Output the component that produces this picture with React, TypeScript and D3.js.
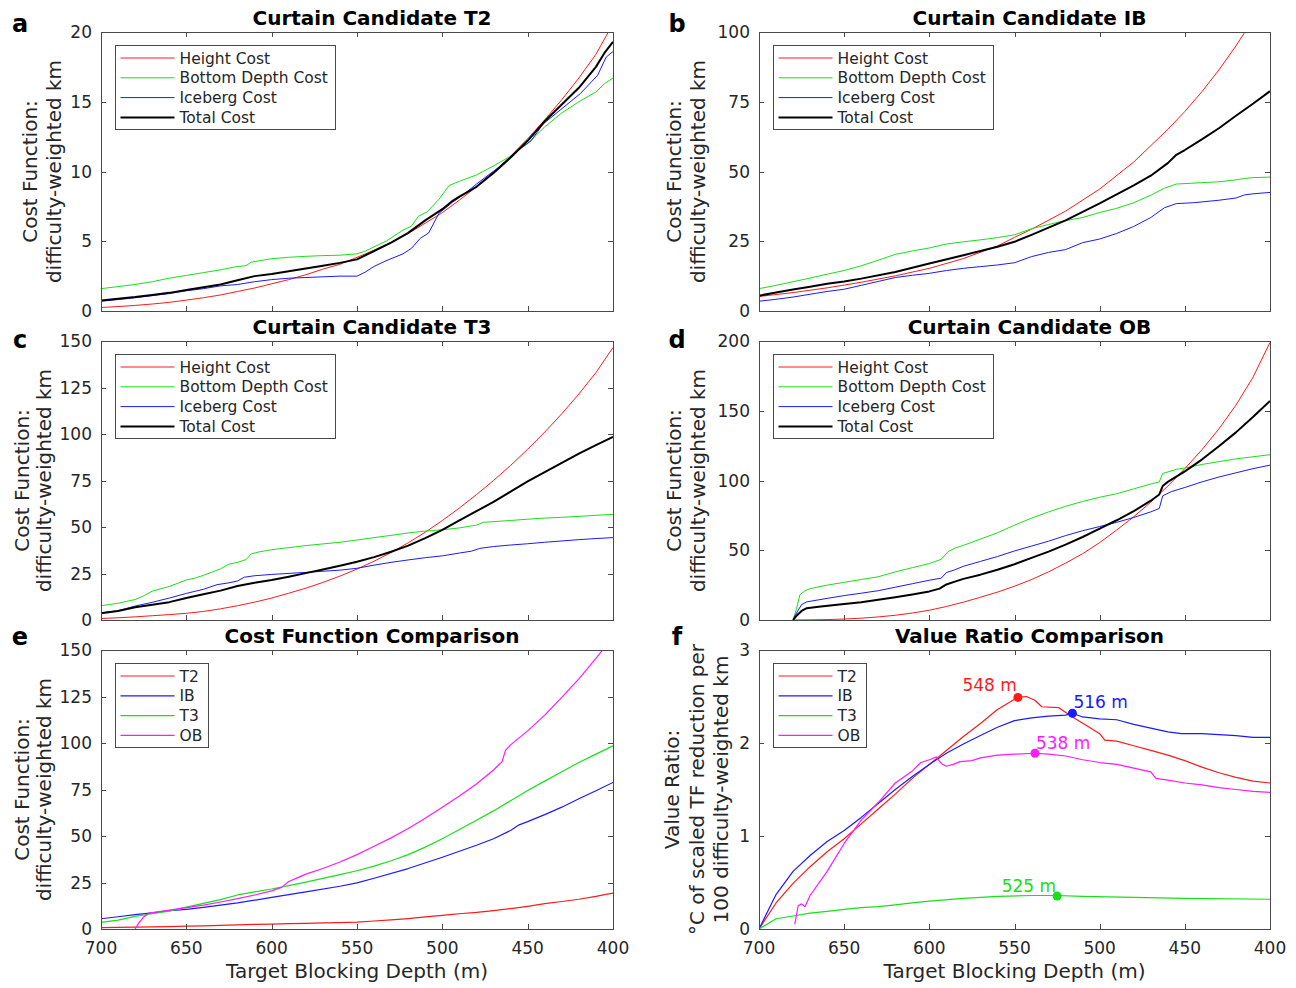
import React from 'react';
import * as d3 from 'd3';

type Pt = [number, number];

// x axis: target blocking depth (m), reversed
const depthTicks = [700, 650, 600, 550, 500, 450, 400];

// a: Curtain Candidate T2
const t2Height: Pt[] = [[700,0.25],[690,0.32],[680,0.4],[670,0.5],[660,0.62],[650,0.78],[640,0.95],[630,1.15],[620,1.4],[610,1.65],[600,1.95],[590,2.25],[580,2.6],[570,3.0],[560,3.35],[550,3.85],[540,4.35],[530,4.9],[520,5.55],[510,6.3],[500,7.05],[490,7.95],[480,8.9],[470,9.95],[460,11.1],[450,12.35],[440,13.7],[430,15.15],[420,16.7],[410,18.4],[400,20.6]];
const t2Bottom: Pt[] = [[700,1.6],[690,1.75],[680,1.9],[670,2.1],[660,2.35],[650,2.55],[640,2.75],[630,2.95],[622,3.15],[615,3.25],[612,3.5],[600,3.75],[590,3.85],[580,3.92],[570,3.97],[560,4.0],[550,4.1],[545,4.3],[540,4.6],[533,5.0],[523,5.8],[518,6.1],[514,6.8],[509,7.1],[502,8.0],[496,9.0],[490,9.3],[480,9.75],[470,10.4],[460,11.1],[450,12.0],[440,13.2],[430,14.2],[420,15.0],[410,15.7],[405,16.3],[400,16.7]];
const t2Iceberg: Pt[] = [[700,0.7],[690,0.82],[680,0.95],[670,1.1],[660,1.25],[650,1.45],[640,1.6],[630,1.8],[620,1.9],[610,2.1],[600,2.25],[590,2.35],[580,2.4],[570,2.45],[560,2.5],[550,2.5],[545,2.8],[540,3.2],[533,3.6],[523,4.1],[518,4.5],[513,5.2],[508,5.6],[502,7.0],[494,7.8],[487,8.4],[480,9.1],[467,10.3],[455,11.6],[448,12.2],[441,13.4],[431,14.4],[419,15.6],[409,16.9],[404,18.2],[400,18.6]];
const t2Total: Pt[] = [[700,0.75],[690,0.88],[680,1.0],[670,1.15],[660,1.3],[650,1.5],[640,1.7],[630,1.9],[620,2.2],[610,2.5],[600,2.65],[590,2.85],[580,3.05],[570,3.25],[560,3.45],[550,3.7],[540,4.3],[530,4.9],[520,5.6],[510,6.5],[500,7.3],[494,7.9],[490,8.2],[480,8.9],[470,9.9],[460,11.0],[450,12.2],[440,13.6],[430,14.8],[420,16.0],[410,17.5],[405,18.5],[400,19.3]];

// b: Curtain Candidate IB
const ibHeight: Pt[] = [[700,5.2],[680,6.6],[660,8.3],[650,9.3],[640,10.3],[620,12.6],[600,15.3],[580,18.8],[560,23.3],[550,26.4],[540,29.3],[520,35.8],[500,43.7],[480,53.4],[460,65.1],[450,71.5],[440,78.6],[430,86.4],[420,95],[410,104.5],[400,115]];
const ibBottom: Pt[] = [[700,8],[690,9.2],[680,10.5],[670,11.8],[660,13.2],[650,14.5],[640,16.2],[630,18.2],[620,20.3],[610,21.5],[600,22.6],[590,24],[580,24.8],[570,25.5],[560,26.3],[550,27.3],[540,29.5],[530,31],[520,32.4],[510,33.5],[500,35.3],[490,36.8],[480,38.8],[470,41.5],[462,44],[455,45.5],[440,46],[430,46.3],[420,47],[415,47.5],[410,47.8],[400,48]];
const ibIceberg: Pt[] = [[700,3.5],[690,4.2],[680,5.0],[670,6.0],[660,7.0],[650,7.8],[640,9.2],[630,10.6],[620,12.0],[610,12.8],[600,13.5],[590,14.5],[580,15.3],[570,15.9],[560,16.5],[550,17.3],[540,19.5],[530,21],[520,22],[510,24.5],[500,25.8],[490,27.8],[480,30.3],[470,33.5],[462,37],[455,38.5],[445,38.8],[430,39.7],[420,40.5],[415,41.6],[410,42],[400,42.5]];
const ibTotal: Pt[] = [[700,5.5],[690,6.6],[680,7.7],[670,8.7],[660,9.8],[650,10.6],[640,11.6],[620,14],[600,17],[580,20],[560,23],[550,24.8],[540,27.3],[520,32.5],[500,38.6],[480,45],[470,48.5],[460,53],[455,56],[450,57.7],[440,61.5],[430,65.5],[420,70],[410,74.3],[400,78.8]];

// c: Curtain Candidate T3
const t3Height: Pt[] = [[700,0.8],[690,1.2],[680,1.7],[670,2.3],[660,2.9],[650,3.6],[640,4.6],[630,6],[620,7.7],[610,9.6],[600,11.8],[590,14.4],[580,17.1],[570,20.2],[560,23.6],[550,27.4],[540,31.6],[530,36.3],[520,41.5],[510,47.2],[500,53.5],[490,60.2],[480,67.4],[470,75],[460,83.1],[450,91.8],[440,101],[430,110.9],[420,121.5],[410,133],[400,146.5]];
const t3Bottom: Pt[] = [[700,7.7],[690,9],[680,11],[675,13],[670,15.5],[660,18],[650,21.5],[645,22.5],[640,24],[630,27.5],[625,30],[620,31],[615,32.5],[612,35.5],[608,36.5],[600,37.8],[580,40],[560,41.8],[550,43],[540,44.3],[530,45.5],[520,46.8],[510,47.8],[500,48.5],[490,49.5],[480,51],[476,52.5],[460,53.5],[450,54.2],[440,54.8],[430,55.2],[420,55.7],[410,56.3],[400,56.8]];
const t3Iceberg: Pt[] = [[700,3.9],[690,5],[680,7.5],[670,9.5],[660,11.8],[650,14.3],[640,16.5],[632,19],[625,20],[620,21],[616,23],[610,23.8],[600,24.5],[580,25.6],[560,26.8],[550,27.8],[540,29.5],[530,31],[520,32.3],[510,33.5],[500,34.5],[490,36],[483,37],[478,38.5],[470,39.5],[460,40.3],[450,41],[440,41.8],[430,42.5],[420,43.2],[410,43.8],[400,44.3]];
const t3Total: Pt[] = [[700,3.6],[690,4.8],[680,6.8],[670,8.2],[660,9.6],[650,11.8],[640,13.8],[630,15.8],[620,18.3],[610,20],[600,21.5],[590,23.3],[580,25.2],[570,27.2],[560,29.2],[550,31.3],[540,33.8],[530,36.7],[520,40],[510,44],[500,48.5],[490,53.5],[483,57],[480,58.5],[470,63.5],[460,69],[450,74.5],[440,79.5],[430,84.5],[420,89.5],[410,94],[400,98.5]];

// d: Curtain Candidate OB
const obHeight: Pt[] = [[680,0],[670,0.1],[660,0.3],[650,0.7],[640,1.3],[630,2.2],[620,3.4],[610,5],[600,7],[590,9.7],[580,12.8],[570,16.3],[560,20],[550,24.2],[540,29],[530,34.5],[520,40.8],[510,47.5],[500,55.5],[495,60],[490,64.5],[480,74],[470,84.5],[460,96],[450,108.5],[440,122],[430,137],[420,154],[410,174],[400,199]];
const obBottom: Pt[] = [[680,0],[678,8],[676,18],[673,21],[670,22.5],[660,25],[650,27],[640,29],[630,31],[620,34.5],[610,37.5],[600,40.5],[593,43.5],[589,49],[585,51.5],[580,53.5],[570,58],[560,62.5],[550,68],[540,73],[530,77.5],[520,81.5],[510,85],[500,88],[490,90.5],[480,94],[470,97.5],[465,99],[463,105],[455,108],[450,109],[440,111.5],[430,113.5],[420,115.5],[410,117],[400,118.5]];
const obIceberg: Pt[] = [[680,0],[678,5],[675,11],[672,13],[660,15.5],[650,17.5],[640,19.2],[630,21],[620,23.5],[610,26],[600,28.5],[593,30],[590,34],[585,36],[580,38.5],[570,42],[560,45.5],[550,49.5],[540,53],[530,56.5],[520,60.5],[510,64],[500,67],[490,70],[480,73.5],[470,77.5],[465,80],[463,89],[458,92],[450,95],[440,99],[430,102.5],[420,105.5],[410,108.5],[400,111]];
const obTotal: Pt[] = [[680,0],[678,3],[675,6.5],[672,8.5],[665,9.5],[650,11.5],[640,12.8],[630,14.5],[620,16.3],[610,18.3],[600,20.5],[594,22.5],[590,25.5],[585,27.5],[580,29.5],[570,32.5],[560,36],[550,40],[540,44.5],[530,49],[520,54],[510,59.5],[500,65.5],[490,71.5],[480,78],[470,85.5],[465,90],[463,96],[460,99],[450,106.5],[440,115],[430,124.5],[420,134.5],[410,145.5],[400,157]];

// f: value ratio
const vrT2: Pt[] = [[700,0],[690,0.28],[680,0.49],[670,0.67],[660,0.83],[650,0.97],[640,1.13],[630,1.29],[620,1.45],[610,1.62],[600,1.77],[590,1.92],[580,2.07],[570,2.21],[560,2.36],[550,2.47],[548,2.49],[543,2.5],[538,2.46],[534,2.39],[524,2.38],[516,2.28],[507,2.18],[500,2.1],[497,2.03],[490,2.02],[480,1.97],[470,1.92],[460,1.87],[450,1.81],[440,1.74],[430,1.68],[420,1.63],[410,1.59],[400,1.57]];
const vrIB: Pt[] = [[700,0],[690,0.37],[680,0.62],[670,0.79],[660,0.94],[650,1.06],[640,1.2],[630,1.35],[620,1.5],[610,1.64],[600,1.77],[590,1.89],[580,1.99],[570,2.08],[560,2.17],[550,2.24],[540,2.27],[530,2.29],[520,2.3],[516,2.32],[510,2.28],[500,2.26],[490,2.25],[480,2.2],[470,2.16],[460,2.12],[452,2.1],[440,2.1],[430,2.09],[420,2.08],[410,2.06],[400,2.06]];
const vrT3: Pt[] = [[700,0],[690,0.11],[680,0.14],[670,0.17],[660,0.19],[650,0.21],[640,0.23],[630,0.24],[620,0.26],[610,0.28],[600,0.3],[580,0.33],[560,0.35],[540,0.36],[525,0.36],[510,0.35],[480,0.34],[450,0.33],[400,0.32]];
const vrOB: Pt[] = [[679,0.05],[677,0.25],[675,0.27],[673,0.24],[670,0.36],[660,0.62],[650,0.92],[640,1.17],[630,1.36],[620,1.57],[610,1.7],[605,1.79],[600,1.82],[596,1.85],[593,1.78],[590,1.75],[586,1.77],[582,1.8],[575,1.81],[570,1.84],[560,1.87],[550,1.88],[538,1.89],[530,1.88],[520,1.86],[510,1.82],[500,1.79],[490,1.77],[480,1.73],[470,1.69],[467,1.62],[460,1.6],[450,1.57],[440,1.55],[430,1.52],[420,1.5],[410,1.48],[400,1.47]];

// best depths in f
const peakNames = ['T2', 'IB', 'T3', 'OB'];
const peakDepths = [548, 516, 525, 538];
const peakValues = [2.49, 2.32, 0.355, 1.89];

const RED = '#ff1a1a';
const GREEN = '#16e016';
const BLUE = '#1a1aff';
const MAG = '#ff1aff';
const FONT = '"DejaVu Sans", Verdana, sans-serif';

const colL = [101, 759];
const colR = [613, 1270];
const rowT = [32, 341, 650];
const rowB = [311, 620, 929];

type Series = { name: string; data: Pt[]; color: string; w: number };
type PanelCfg = {
  letter: string; title: string; col: number; row: number;
  yMax: number; yStep: number; series: Series[]; legendW: number;
  ylab: string[]; ylabX: number[]; showX: boolean;
  peaks?: boolean;
};

const costSeries = (h: Pt[], b: Pt[], i: Pt[], t: Pt[]): Series[] => [
  { name: 'Height Cost', data: h, color: RED, w: 1 },
  { name: 'Bottom Depth Cost', data: b, color: GREEN, w: 1 },
  { name: 'Iceberg Cost', data: i, color: BLUE, w: 1 },
  { name: 'Total Cost', data: t, color: '#000', w: 2 },
];
const costLab = ['Cost Function:', 'difficulty-weighted km'];

const panels: PanelCfg[] = [
  { letter: 'a', title: 'Curtain Candidate T2', col: 0, row: 0, yMax: 20, yStep: 5, series: costSeries(t2Height, t2Bottom, t2Iceberg, t2Total), legendW: 220, ylab: costLab, ylabX: [37, 61], showX: false },
  { letter: 'b', title: 'Curtain Candidate IB', col: 1, row: 0, yMax: 100, yStep: 25, series: costSeries(ibHeight, ibBottom, ibIceberg, ibTotal), legendW: 220, ylab: costLab, ylabX: [681, 705], showX: false },
  { letter: 'c', title: 'Curtain Candidate T3', col: 0, row: 1, yMax: 150, yStep: 25, series: costSeries(t3Height, t3Bottom, t3Iceberg, t3Total), legendW: 220, ylab: costLab, ylabX: [29, 51], showX: false },
  { letter: 'd', title: 'Curtain Candidate OB', col: 1, row: 1, yMax: 200, yStep: 50, series: costSeries(obHeight, obBottom, obIceberg, obTotal), legendW: 220, ylab: costLab, ylabX: [681, 705], showX: false },
  { letter: 'e', title: 'Cost Function Comparison', col: 0, row: 2, yMax: 150, yStep: 25, series: [
      { name: 'T2', data: t2Total, color: RED, w: 1.2 },
      { name: 'IB', data: ibTotal, color: BLUE, w: 1.2 },
      { name: 'T3', data: t3Total, color: GREEN, w: 1.2 },
      { name: 'OB', data: obTotal, color: MAG, w: 1.2 },
    ], legendW: 93, ylab: costLab, ylabX: [29, 51], showX: true },
  { letter: 'f', title: 'Value Ratio Comparison', col: 1, row: 2, yMax: 3, yStep: 1, series: [
      { name: 'T2', data: vrT2, color: RED, w: 1.2 },
      { name: 'IB', data: vrIB, color: BLUE, w: 1.2 },
      { name: 'T3', data: vrT3, color: GREEN, w: 1.2 },
      { name: 'OB', data: vrOB, color: MAG, w: 1.2 },
    ], legendW: 93, ylab: ['Value Ratio:', '\u00B0C of scaled TF reduction per', '100 difficulty-weighted km'], ylabX: [679, 704, 728], showX: true, peaks: true },
];

const peakStyle = [
  { color: RED, anchor: 'end', dx: -1, dy: -6 },
  { color: BLUE, anchor: 'start', dx: 1, dy: -5 },
  { color: GREEN, anchor: 'end', dx: -1, dy: -4 },
  { color: MAG, anchor: 'start', dx: 1, dy: -4 },
];

function Panel({ p, idx }: { p: PanelCfg; idx: number }) {
  const L = colL[p.col], R = colR[p.col], T = rowT[p.row], B = rowB[p.row];
  const x = d3.scaleLinear().domain([700, 400]).range([L, R]);
  const y = d3.scaleLinear().domain([0, p.yMax]).range([B, T]);
  const line = d3.line<Pt>().x(d => x(d[0])).y(d => y(d[1]));
  const yTicks = d3.range(0, p.yMax + p.yStep / 2, p.yStep);
  const clipId = `clip${idx}`;
  const lx = L + 14, ly = T + 13;
  const midY = (T + B) / 2;
  const axisCol = '#4a4a4a';
  const tickCol = '#262626';

  return (
    <g>
      <defs>
        <clipPath id={clipId}>
          <rect x={L} y={T} width={R - L} height={B - T} />
        </clipPath>
      </defs>
      <text x={p.col === 0 ? 20 : 677} y={[32, 348, 645][p.row]} fontSize={24} fontWeight="bold" textAnchor="middle" fill="#000">{p.letter}</text>
      <text x={(L + R) / 2 + 15} y={T - 7} fontSize={20} fontWeight="bold" textAnchor="middle" fill="#000">{p.title}</text>

      <rect x={L + 0.5} y={T + 0.5} width={R - L} height={B - T} fill="#fff" stroke="none" />

      <g clipPath={`url(#${clipId})`}>
        {p.series.map(s => (
          <path key={s.name} d={line(s.data) || ''} fill="none" stroke={s.color} strokeWidth={s.w} strokeLinejoin="round" />
        ))}
      </g>

      {/* box and ticks */}
      <rect x={L + 0.5} y={T + 0.5} width={R - L} height={B - T} fill="none" stroke={axisCol} strokeWidth={1} />
      {depthTicks.map(d => (
        <g key={d}>
          <line x1={Math.round(x(d)) + 0.5} x2={Math.round(x(d)) + 0.5} y1={B} y2={B - 5} stroke={axisCol} />
          <line x1={Math.round(x(d)) + 0.5} x2={Math.round(x(d)) + 0.5} y1={T} y2={T + 5} stroke={axisCol} />
          {p.showX && (
            <text x={x(d)} y={B + 25} fontSize={17} textAnchor="middle" fill={tickCol}>{d}</text>
          )}
        </g>
      ))}
      {yTicks.map(v => (
        <g key={v}>
          <line x1={L} x2={L + 5} y1={Math.round(y(v)) + 0.5} y2={Math.round(y(v)) + 0.5} stroke={axisCol} />
          <line x1={R} x2={R - 5} y1={Math.round(y(v)) + 0.5} y2={Math.round(y(v)) + 0.5} stroke={axisCol} />
          <text x={L - 9} y={y(v) + 6} fontSize={17} textAnchor="end" fill={tickCol}>{v}</text>
        </g>
      ))}
      {p.showX && (
        <text x={(L + R) / 2} y={978} fontSize={20} textAnchor="middle" fill={tickCol}>Target Blocking Depth (m)</text>
      )}
      {p.ylab.map((t, i) => (
        <text key={i} transform={`translate(${p.ylabX[i]},${midY}) rotate(-90)`} fontSize={20} textAnchor="middle" fill={tickCol}>{t}</text>
      ))}

      {/* legend */}
      <rect x={lx + 0.5} y={ly + 0.5} width={p.legendW} height={84} fill="#fff" stroke={axisCol} strokeWidth={1} />
      {p.series.map((s, i) => {
        const ry = ly + 13 + i * 19.8;
        return (
          <g key={s.name}>
            <line x1={lx + 5.5} x2={lx + 59.5} y1={ry} y2={ry} stroke={s.color} strokeWidth={s.w} />
            <text x={lx + 64.5} y={ry + 5.5} fontSize={15.5} fill={tickCol}>{s.name}</text>
          </g>
        );
      })}

      {p.peaks && peakDepths.map((d, i) => {
        const st = peakStyle[i];
        const cx = x(d), cy = y(peakValues[i]);
        return (
          <g key={peakNames[i]}>
            <circle cx={cx} cy={cy} r={4.5} fill={st.color} />
            <text x={cx + st.dx} y={cy + st.dy} fontSize={17} textAnchor={st.anchor} fill={st.color}>{`${d} m`}</text>
          </g>
        );
      })}
    </g>
  );
}

export default function App() {
  return (
    <svg width={1296} height={988} style={{ position: 'absolute', left: 0, top: 0, background: '#fff' }} fontFamily={FONT}>
      <rect x={0} y={0} width={1296} height={988} fill="#fff" />
      {panels.map((p, i) => <Panel key={p.letter} p={p} idx={i} />)}
    </svg>
  );
}
